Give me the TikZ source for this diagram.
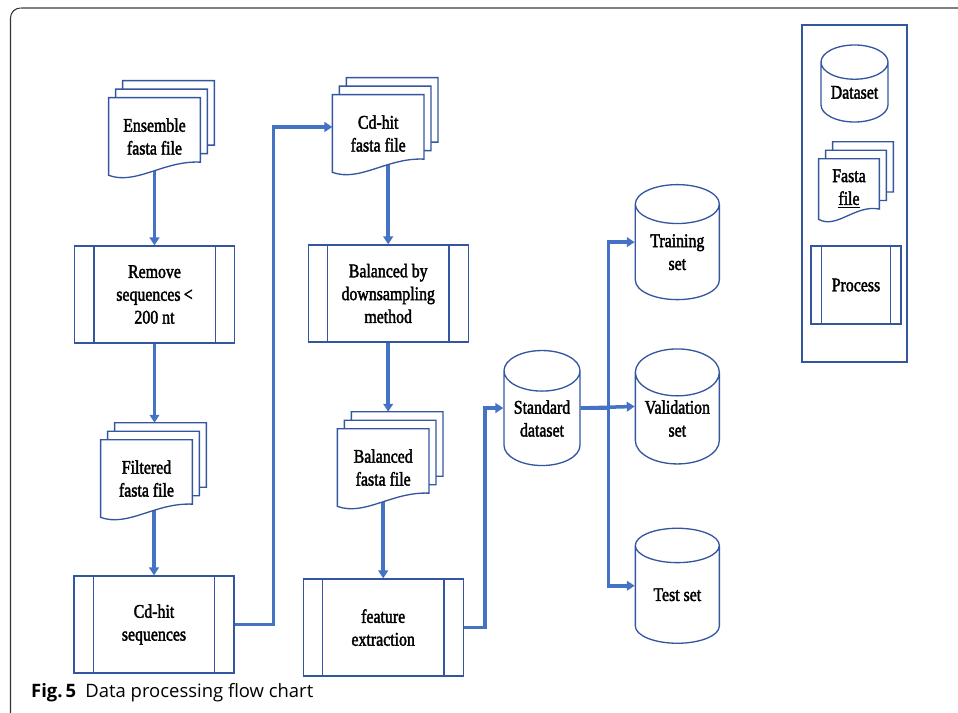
\documentclass[tikz,border=0pt]{standalone}
\usepackage{fontspec}
\setmainfont{Liberation Serif}
\newfontfamily\figfont[FakeStretch=0.82,FakeBold=2]{Liberation Serif}
\newfontfamily\capfont{Open Sans}
\usetikzlibrary{arrows.meta, positioning, shapes.geometric, calc}
\definecolor{linkblue}{RGB}{68,114,196}
\definecolor{shapeblue}{RGB}{52,86,160}
\pgfdeclarelayer{background}
\pgfsetlayers{background,main}

\begin{document}
\begin{tikzpicture}[
font=\figfont\fontsize{11}{13}\selectfont,
outline/.style={draw=shapeblue, line width=0.75pt},
proc/.style={rectangle, outline, minimum width=3.2cm, minimum height=1.94cm, inner sep=0pt, align=center,
  append after command={\pgfextra{\let\procnode\tikzlastnode
    \draw[outline] ([xshift=#1]\procnode.north west) -- ([xshift=#1]\procnode.south west)
      ([xshift=-#1]\procnode.north east) -- ([xshift=-#1]\procnode.south east);}}},
proc/.default=0.4cm,
fasta/.style={rectangle, minimum width=1.82cm, minimum height=1.54cm, inner sep=0pt, align=center,
  append after command={\pgfextra{\let\fastanode\tikzlastnode
    \coordinate (nw) at (\fastanode.north west);
    \coordinate (ne) at (\fastanode.north east);
    \coordinate (sw) at (\fastanode.south west);
    \coordinate (se) at ($(\fastanode.south east)!0.17!(\fastanode.north east)$);
    \foreach \k in {2,1}
      \draw[outline, fill=white] ($(nw)+(\k*0.14,\k*0.17)$) -- ($(ne)+(\k*0.14,\k*0.17)$)
        -- ($(se)+(\k*0.14,\k*0.17)$) -- ($(sw |- se)+(\k*0.14,\k*0.17)$) -- cycle;
    \draw[outline, fill=white] (nw) -- (ne) -- (se)
      .. controls ($(sw)!0.6!(\fastanode.south east)+(0,0.3)$) and ($(sw)!0.3!(\fastanode.south east)+(0,-0.2)$) .. (sw) -- cycle;
    \coordinate (\fastanode-top) at ($(nw)!0.5!(ne)+(0.28,0.34)$);}}},
base/.style={cylinder, shape border rotate=90, aspect=0.72, outline, minimum width=1.68cm, minimum height=2.3cm, inner sep=0pt, align=center},
arrow/.style={-{Triangle[length=4.5pt, width=5.5pt]}, draw=linkblue, line width=2pt}
]
\useasboundingbox (0,0) rectangle (19.16,-14.26);
\draw[black!80, line width=0.6pt] (0.21,-14.26) -- (0.21,-0.36) arc[start angle=180, end angle=90, radius=0.2];
\draw[gray, line width=0.6pt] (0.41,-0.16) -- (19.16,-0.16);

% first column
\node[fasta] (ens) at (3.09,-2.73) {Ensemble\\fasta file};
\node[proc, below=1.4cm of ens] (rm) {Remove\\sequences\,<\\200 nt};
\node[fasta, below=1.92cm of rm, xshift=-0.16cm] (filt) {Filtered\\fasta file};
\node[proc, below=1.16cm of filt, xshift=0.15cm] (cds) {Cd-hit\\sequences};

% second column
\node[fasta, right=2.64cm of ens, yshift=0.06cm] (cdf) {Cd-hit\\fasta file};
\node[proc, below=1.44cm of cdf, xshift=0.2cm] (bal) {Balanced by\\downsampling\\method};
\node[fasta, below=1.72cm of bal, xshift=-0.1cm] (balf) {Balanced\\fasta file};
\node[proc, below=1.44cm of balf] (feat) {feature\\extraction};

% datasets
\node[base, minimum width=1.52cm] (std) at (10.84,-8.37) {Standard\\dataset};
\node[base, right=1.08cm of std] (valid) {Validation\\set};
\node[base, above=0.96cm of valid] (train) {Training\\set};
\node[base, below=1.26cm of valid] (test) {Test set};

% legend
\node[outline, minimum width=2.1cm, minimum height=6.74cm, inner sep=0pt] (legend) at (17.09,-3.87) {};
\node[base, minimum width=1.34cm, minimum height=1.54cm, below=0.4cm of legend.north] (keybase) {Dataset};
\node[fasta, minimum width=1.2cm, minimum height=1.2cm, below=0.72cm of keybase, xshift=-0.11cm] (keyfasta) {Fasta\\\underline{file}};
\node[proc=0.22cm, minimum width=1.8cm, minimum height=1.56cm, below=0.52cm of keyfasta, xshift=0.14cm] (keyproc) {Process};

\node[anchor=west, font=\capfont\fontsize{10.5}{12}\selectfont] (caption) at (0.5,-13.86) {\textbf{Fig.\,5}\hspace{0.5em}Data processing flow chart};

\begin{pgfonlayer}{background}
\draw[arrow] (ens.center) -- (rm);
\draw[arrow] (rm) -- (rm |- filt-top);
\draw[arrow] (cds |- filt.center) -- (cds);
\draw[arrow] (cds.east) -- ++(0.78,0) |- ([yshift=0.13cm]cdf.west);
\draw[arrow] (bal |- cdf.center) -- (bal);
\draw[arrow] (bal) -- (bal |- balf-top);
\draw[arrow] (balf.center) -- (feat);
\draw[arrow] (feat.east) -- ++(0.42,0) |- (std.shape center -| std.west);
\draw[arrow] (std.shape center -| std.east) -- (valid.shape center -| valid.west);
\draw[arrow] (std.shape center -| std.east) -- ++(0.56,0) |- (train.shape center -| train.west);
\draw[arrow] (std.shape center -| std.east) -- ++(0.56,0) |- (test.shape center -| test.west);
\end{pgfonlayer}
\end{tikzpicture}
\end{document}
